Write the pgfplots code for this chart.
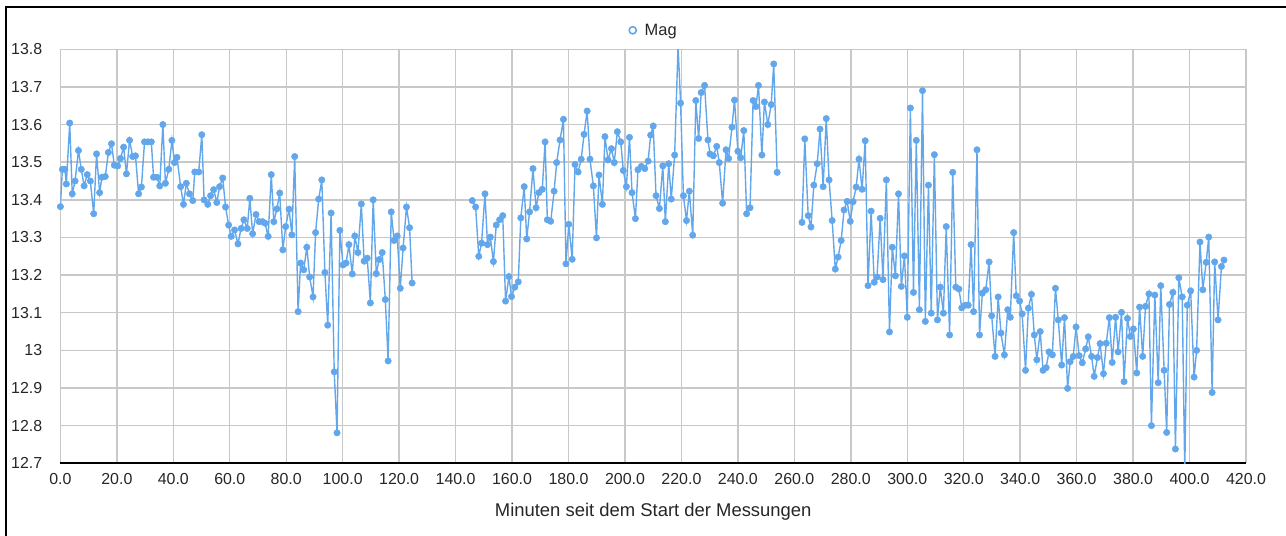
\documentclass[border=0pt]{standalone}
\usepackage{pgfplots}
\pgfplotsset{compat=1.18}
\usepackage{fontspec}
\setmainfont{Liberation Sans}
\definecolor{magblue}{RGB}{98,167,236}
\definecolor{gridgray}{RGB}{200,200,200}

\begin{document}
\begin{tikzpicture}[x=1bp,y=1bp]
\useasboundingbox (0,0) rectangle (1286,536);
% window frame
\draw[black, line width=2bp] (6,0) -- (6,529) -- (1286,529);
\begin{axis}[
  at={(60.4bp,72.7bp)}, anchor=south west,
  width=1185.6bp, height=414bp, scale only axis,
  xmin=0, xmax=420, ymin=12.7, ymax=13.8,
  axis x line=bottom, axis y line=left,
  x axis line style={-, black, line width=1.6bp},
  y axis line style={draw=none},
  major tick length=0pt,
  grid=major,
  major grid style={gridgray, line width=1.4bp},
  xtick={0,20,...,420},
  xticklabels={0.0,20.0,40.0,60.0,80.0,100.0,120.0,140.0,160.0,180.0,200.0,220.0,240.0,260.0,280.0,300.0,320.0,340.0,360.0,380.0,400.0,420.0},
  ytick={12.7,12.8,12.9,13.0,13.1,13.2,13.3,13.4,13.5,13.6,13.7,13.8},
  yticklabels={12.7,12.8,12.9,13,13.1,13.2,13.3,13.4,13.5,13.6,13.7,13.8},
  /pgf/number format/assume math mode=true,
  ticklabel style={font=\fontsize{16}{19}\selectfont, text=black!85},
  xticklabel style={inner sep=0pt, anchor=north, yshift=-10bp},
  yticklabel style={inner sep=0pt, anchor=east, xshift=-18bp},
  xlabel={Minuten seit dem Start der Messungen},
  xlabel style={font=\fontsize{18.5}{22}\selectfont, text=black!85, at={(axis description cs:0.5,0)}, anchor=center, yshift=-48bp},
  legend style={at={(axis description cs:0.5,1)}, anchor=center, yshift=19bp, draw=none, fill=none,
    font=\fontsize{16.5}{19}\selectfont, text=black!85},
  legend image code/.code={\draw[magblue, line width=1.6bp, fill=white] (4bp,0bp) circle (3.6bp);
    \path[draw=none, fill=none] (-1bp,0bp) rectangle (14bp,0.1bp);},
  unbounded coords=jump,
  clip=true,
]
\addplot[magblue, line width=1.4bp, mark=*, mark size=3.2bp, mark options={fill=magblue, draw=magblue, line width=0.5bp}]
table {
t mag
0.0 13.382
0.7 13.481
1.6 13.481
2.1 13.442
3.3 13.604
4.2 13.416
5.2 13.450
6.4 13.531
7.4 13.481
8.4 13.437
9.5 13.467
10.6 13.450
11.8 13.363
12.8 13.522
13.9 13.419
14.7 13.460
15.9 13.462
17.0 13.526
18.1 13.549
19.1 13.492
20.3 13.490
21.3 13.510
22.4 13.540
23.4 13.469
24.5 13.558
25.6 13.515
26.6 13.517
27.7 13.416
28.7 13.434
29.8 13.554
31.0 13.554
32.2 13.554
33.0 13.460
34.2 13.460
35.2 13.437
36.3 13.600
37.2 13.444
38.4 13.481
39.5 13.558
40.4 13.499
41.3 13.513
42.6 13.435
43.6 13.388
44.6 13.444
45.7 13.416
46.9 13.398
47.6 13.474
49.0 13.474
50.1 13.573
50.9 13.400
52.2 13.388
53.2 13.411
54.3 13.427
55.4 13.393
56.4 13.435
57.5 13.458
58.5 13.381
59.6 13.333
60.5 13.303
61.7 13.320
62.9 13.283
64.0 13.324
65.0 13.347
66.2 13.324
67.1 13.404
68.1 13.310
69.3 13.361
70.4 13.342
71.6 13.342
72.5 13.338
73.6 13.303
74.7 13.467
75.6 13.342
76.7 13.376
77.7 13.418
78.8 13.267
79.8 13.329
81.0 13.375
82.0 13.307
83.0 13.515
84.2 13.103
85.1 13.232
86.2 13.214
87.3 13.274
88.3 13.195
89.5 13.142
90.4 13.313
91.5 13.402
92.6 13.453
93.7 13.207
94.7 13.067
95.9 13.365
97.0 12.943
98.0 12.781
99.0 13.319
100.1 13.227
101.2 13.232
102.2 13.281
103.4 13.203
104.3 13.304
105.4 13.260
106.6 13.389
107.6 13.237
108.7 13.245
109.8 13.126
110.8 13.400
111.9 13.204
112.9 13.241
114.0 13.260
115.1 13.135
116.1 12.972
117.2 13.368
118.2 13.292
119.3 13.304
120.4 13.165
121.4 13.272
122.6 13.381
123.7 13.326
124.6 13.179
135.0 nan
145.9 13.398
147.1 13.381
148.2 13.250
149.2 13.285
150.4 13.416
151.3 13.281
152.3 13.301
153.4 13.236
154.4 13.333
155.6 13.347
156.7 13.358
157.7 13.131
158.9 13.196
159.8 13.143
161.0 13.168
162.2 13.182
163.1 13.352
164.3 13.435
165.2 13.296
166.2 13.368
167.4 13.483
168.5 13.379
169.5 13.419
170.7 13.428
171.7 13.554
172.5 13.347
173.7 13.343
174.9 13.423
175.8 13.499
177.0 13.559
178.2 13.614
179.1 13.230
180.1 13.335
181.3 13.242
182.3 13.494
183.4 13.474
184.5 13.508
185.5 13.574
186.6 13.636
187.6 13.508
188.8 13.437
189.9 13.299
190.8 13.466
192.0 13.388
192.9 13.568
194.0 13.506
195.2 13.536
196.2 13.499
197.3 13.581
198.5 13.554
199.4 13.478
200.5 13.435
201.6 13.566
202.5 13.419
203.7 13.350
204.6 13.480
205.8 13.489
207.0 13.483
208.2 13.503
209.1 13.572
210.0 13.596
211.0 13.411
212.2 13.377
213.4 13.490
214.3 13.342
215.5 13.496
216.4 13.402
217.6 13.519
218.8 13.810
219.7 13.657
220.7 13.411
221.8 13.345
222.8 13.423
224.0 13.306
225.1 13.664
226.1 13.563
227.0 13.685
228.2 13.704
229.4 13.559
230.1 13.522
231.3 13.517
232.5 13.542
233.4 13.499
234.6 13.391
235.8 13.533
236.7 13.510
237.9 13.593
238.8 13.665
240.0 13.529
241.0 13.512
242.1 13.584
243.1 13.363
244.3 13.379
245.4 13.664
246.4 13.648
247.3 13.704
248.5 13.519
249.4 13.660
250.6 13.600
251.8 13.653
252.7 13.761
253.9 13.473
258.0 nan
262.7 13.340
263.7 13.562
264.9 13.358
265.9 13.328
266.9 13.439
268.1 13.496
269.1 13.588
270.2 13.435
271.3 13.616
272.3 13.453
273.4 13.345
274.5 13.216
275.5 13.248
276.6 13.292
277.6 13.373
278.7 13.396
279.8 13.343
280.8 13.395
281.9 13.434
282.9 13.508
284.0 13.428
285.1 13.557
286.1 13.172
287.2 13.370
288.3 13.181
289.3 13.195
290.4 13.351
291.4 13.188
292.6 13.453
293.7 13.049
294.7 13.274
295.8 13.198
296.9 13.416
297.9 13.170
299.0 13.251
300.0 13.088
301.1 13.644
302.2 13.154
303.2 13.558
304.3 13.108
305.4 13.690
306.4 13.077
307.5 13.439
308.5 13.099
309.6 13.520
310.7 13.081
311.7 13.168
312.8 13.099
313.8 13.329
315.0 13.041
316.1 13.473
317.2 13.168
318.3 13.163
319.3 13.113
320.5 13.120
321.6 13.120
322.6 13.281
323.5 13.103
324.7 13.533
325.6 13.041
326.6 13.152
327.8 13.161
329.0 13.235
329.9 13.092
331.1 12.984
332.2 13.142
333.2 13.046
334.4 12.988
335.6 13.108
336.5 13.088
337.7 13.313
338.6 13.145
339.8 13.131
340.7 13.097
341.9 12.947
342.9 13.112
344.0 13.149
345.0 13.041
345.9 12.975
347.1 13.050
348.1 12.947
349.2 12.954
350.2 12.996
351.4 12.988
352.5 13.165
353.5 13.081
354.7 12.961
355.7 13.087
356.8 12.899
357.7 12.970
358.8 12.984
359.8 13.062
360.9 12.986
362.0 12.967
363.2 13.004
364.1 13.036
365.3 12.984
366.2 12.931
367.4 12.981
368.3 13.018
369.5 12.938
370.5 13.019
371.6 13.087
372.6 12.968
373.8 13.088
374.7 12.996
375.9 13.101
376.8 12.917
378.0 13.085
379.0 13.037
380.1 13.057
381.3 12.940
382.3 13.115
383.4 12.984
384.4 13.117
385.6 13.150
386.5 12.800
387.7 13.147
388.9 12.914
389.8 13.172
391.0 12.947
391.9 12.782
392.9 13.122
394.1 13.154
395.0 12.738
396.2 13.193
397.4 13.142
398.3 12.680
399.2 13.120
400.4 13.158
401.6 12.929
402.5 13.000
403.7 13.288
404.7 13.161
405.9 13.234
406.8 13.301
408.0 12.888
408.9 13.235
410.1 13.081
411.3 13.223
412.2 13.240
};
\addlegendentry{Mag}
\end{axis}
\end{tikzpicture}
\end{document}
